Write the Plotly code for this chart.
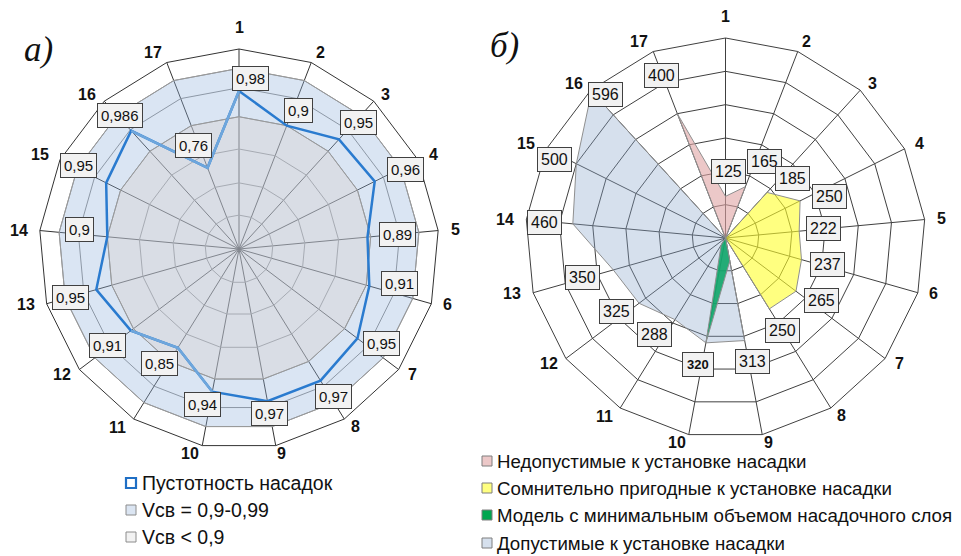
import math
import plotly.graph_objects as go

W, H = 961, 556
OFF = 8  # page body margin of the browser

# ---------------- data ----------------
categories = [str(i) for i in range(1, 18)]

# chart a) - voidness of packings
voidness = [0.98, 0.9, 0.95, 0.96, 0.89, 0.91, 0.95, 0.97, 0.97, 0.94,
            0.85, 0.91, 0.95, 0.9, 0.95, 0.986, 0.76]
voidness_text = ["0,98", "0,9", "0,95", "0,96", "0,89", "0,91", "0,95", "0,97", "0,97",
                 "0,94", "0,85", "0,91", "0,95", "0,9", "0,95", "0,986", "0,76"]
zone_upper = [1.05] * 17      # outer edge of the "Vсв = 0,9-0,99" zone as drawn
zone_lower = [0.9] * 17       # "Vсв < 0,9" zone
rings_a = [0.595, 0.695, 0.8, 0.9, 0.99, 1.05]

# chart б)
unacceptable = [125, 165, 0, 0, 0, 0, 0, 0, 0, 0, 0, 0, 0, 0, 0, 0, 400]
doubtful     = [0, 0, 185, 250, 222, 237, 265, 250, 0, 0, 0, 0, 0, 0, 0, 0, 0]
minimal      = [0, 0, 0, 0, 0, 0, 0, 0, 70, 320, 25, 0, 0, 0, 0, 0, 0]
acceptable   = [0, 0, 0, 0, 0, 0, 0, 0, 313, 320, 288, 325, 350, 460, 500, 596, 0]
values_b = [max(a, b, c, d) for a, b, c, d in zip(unacceptable, doubtful, minimal, acceptable)]

legend_a = ["Пустотность насадок", "Vсв = 0,9-0,99", "Vсв < 0,9"]
legend_b = ["Недопустимые к установке насадки",
            "Сомнительно пригодные к установке насадки",
            "Модель с минимальным объемом насадочного слоя",
            "Допустимые к установке насадки"]

# ---------------- layout helpers ----------------
FONT = "Liberation Sans, Arial, sans-serif"
R = 200
CA = (239, 249)     # pixel centre of chart a
CB = (725.5, 238)   # pixel centre of chart б
# offsets of the category labels from the outer polygon vertices (pixels)
cat_label_offsets = [(0, -22), (9, -10), (12, -7), (15, -5), (17, -1.5), (16, 1), (14, 5),
                     (11, 7), (6, 8), (-12, 8), (-16, 8), (-17, 5), (-21, 1), (-21, -0.5),
                     (-20, -5), (-17, -7), (-14, -10)]


def px(x, y):
    return (x - OFF) / W, 1 - (y - OFF) / H


def dom(c):
    x0, y1 = px(c[0] - R, c[1] - R)
    x1, y0 = px(c[0] + R, c[1] + R)
    return dict(x=[x0, x1], y=[y0, y1])


def closed(v):
    return list(v) + [v[0]]


theta = closed(categories)

fig = go.Figure()

# ---- chart a ----
fig.add_trace(go.Scatterpolar(r=closed(zone_upper), theta=theta, subplot="polar",
                              mode="lines", fill="toself",
                              fillcolor="rgba(149,181,221,0.35)",
                              line=dict(color="#9a9a9a", width=1),
                              showlegend=False, hoverinfo="skip"))
fig.add_trace(go.Scatterpolar(r=closed(zone_lower), theta=theta, subplot="polar",
                              mode="lines", fill="toself",
                              fillcolor="rgba(215,206,203,0.35)",
                              line=dict(color="#9a9a9a", width=1),
                              showlegend=False, hoverinfo="skip"))
fig.add_trace(go.Scatterpolar(r=closed(voidness), theta=theta, subplot="polar",
                              mode="lines", line=dict(color="#2a7bcf", width=2.5),
                              showlegend=False, hoverinfo="skip"))
# lighter segments (1-17-16 and 12-11-10)
for idx in ([0, 16, 15], [11, 10, 9]):
    fig.add_trace(go.Scatterpolar(r=[voidness[i] for i in idx],
                                  theta=[categories[i] for i in idx], subplot="polar",
                                  mode="lines", line=dict(color="#6ea6dc", width=2.5),
                                  showlegend=False, hoverinfo="skip"))

# ---- chart б ----
series_b = [
    (unacceptable, "rgba(223,163,163,0.6)"),
    (doubtful, "rgba(255,255,43,0.6)"),
    (acceptable, "rgba(138,166,204,0.35)"),
    (minimal, "rgba(16,166,105,0.9)"),
]
for vals, col in series_b:
    fig.add_trace(go.Scatterpolar(r=closed(vals), theta=theta, subplot="polar2",
                                  mode="lines", fill="toself", fillcolor=col,
                                  line=dict(color="#8f8f8f", width=1),
                                  showlegend=False, hoverinfo="skip"))

ang_common = dict(type="category", categoryarray=categories, rotation=90,
                  direction="clockwise", showline=True, linewidth=1,
                  ticks="", showticklabels=False)

fig.update_layout(
    width=W, height=H, margin=dict(l=0, r=0, t=0, b=0),
    paper_bgcolor="white", plot_bgcolor="white",
    polar=dict(domain=dom(CA), gridshape="linear", bgcolor="white",
               radialaxis=dict(range=[0.49, 1.11], tickvals=rings_a, showticklabels=False,
                               ticks="", showline=False, gridcolor="#8a8a8a", gridwidth=1),
               angularaxis=dict(**ang_common, linecolor="#333333",
                                gridcolor="#333333", gridwidth=1)),
    polar2=dict(domain=dom(CB), gridshape="linear", bgcolor="white",
                radialaxis=dict(range=[0, 600], tickvals=[100, 200, 300, 400, 500],
                                showticklabels=False, ticks="", showline=False,
                                gridcolor="#404040", gridwidth=1),
                angularaxis=dict(**ang_common, linecolor="#404040",
                                 gridcolor="#404040", gridwidth=1)),
)

annotations = []
shapes = []


def label(x, y, text, font, xanchor="center", **kw):
    xp, yp = px(x, y)
    annotations.append(dict(x=xp, y=yp, xref="paper", yref="paper", text=text,
                            showarrow=False, xanchor=xanchor, yanchor="middle",
                            font=font, **kw))


# category labels around both charts
n = len(categories)
for c in (CA, CB):
    for k, (cat, (dx, dy)) in enumerate(zip(categories, cat_label_offsets)):
        a = 2 * math.pi * k / n
        vx = c[0] + R * math.sin(a)
        vy = c[1] - R * math.cos(a)
        label(vx + dx, vy + dy, cat, dict(family=FONT, size=16, color="#111", weight="bold"))

# value boxes, chart a
label_pos_a = [(250, 79), (298, 111), (358, 122), (405, 169), (397, 234), (399, 283),
               (381, 343), (333, 396), (269, 413), (202, 404), (159, 363), (107, 345),
               (70, 297), (79, 230), (78, 165), (120, 115), (193, 145)]
for txt, (x, y) in zip(voidness_text, label_pos_a):
    label(x, y, txt, dict(family=FONT, size=15, color="#111"),
          bgcolor="#f2f2f2", bordercolor="#404040", borderwidth=1, borderpad=3)

# value boxes, chart б
label_pos_b = [(728, 172), (764, 161), (792, 178), (829, 196), (823, 228), (827, 264),
               (821, 300), (782, 330), (752, 361), (698, 364), (654, 334), (616, 311),
               (582, 277), (544, 222), (554, 159), (605, 94), (661, 75)]
for i, (v, (x, y)) in enumerate(zip(values_b, label_pos_b)):
    bold = (i == 9)
    label(x, y, str(v),
          dict(family=FONT, size=13 if bold else 16, color="#111",
               weight="bold" if bold else "normal"),
          bgcolor="#f2f2f2", bordercolor="#404040", borderwidth=1,
          borderpad=4 if bold else 3)

# panel titles
for txt, (x, y) in (("а)", (38, 50)), ("б)", (504, 45))):
    label(x, y, txt, dict(family="Liberation Serif, Times New Roman, serif",
                          size=35, color="#111", style="italic"))

# legend a
leg_a_y = [483, 510, 537]
leg_a_style = [("white", "#1f6fc5", 2.2), ("rgb(219,229,242)", "#8c8c8c", 1),
               ("rgb(242,242,242)", "#8c8c8c", 1)]
for txt, y, (fc, lc, lw) in zip(legend_a, leg_a_y, leg_a_style):
    x0, y1 = px(126, y - 5)
    x1, y0 = px(136, y + 5)
    shapes.append(dict(type="rect", xref="paper", yref="paper", x0=x0, x1=x1, y0=y0, y1=y1,
                       fillcolor=fc, line=dict(color=lc, width=lw)))
    label(140, y, txt, dict(family=FONT, size=19.5, color="#111"), xanchor="left")

# legend б
leg_b_y = [461, 488, 515, 543]
leg_b_fill = ["rgb(236,200,200)", "rgb(255,255,128)", "rgb(0,166,80)", "rgb(214,224,237)"]
for txt, y, fc in zip(legend_b, leg_b_y, leg_b_fill):
    x0, y1 = px(482, y - 5)
    x1, y0 = px(492, y + 5)
    shapes.append(dict(type="rect", xref="paper", yref="paper", x0=x0, x1=x1, y0=y0, y1=y1,
                       fillcolor=fc, line=dict(color="#7f7f7f", width=1)))
    label(495, y, txt, dict(family=FONT, size=18.7, color="#111"), xanchor="left")

fig.update_layout(annotations=annotations, shapes=shapes)
fig.write_html("out.html")
